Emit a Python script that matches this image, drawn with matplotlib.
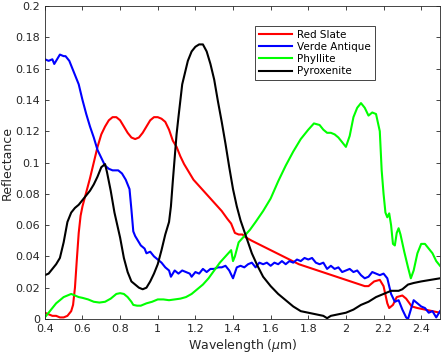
import matplotlib
matplotlib.use("Agg")
import matplotlib.pyplot as plt
import numpy as np

# Red Slate
red_x = [0.40, 0.42, 0.44, 0.46, 0.48, 0.50, 0.52, 0.54, 0.55, 0.56, 0.57, 0.58, 0.59, 0.60, 0.62, 0.64, 0.66, 0.68,
         0.70, 0.72, 0.74, 0.76, 0.78, 0.80, 0.82, 0.84, 0.86, 0.88, 0.90, 0.92, 0.94, 0.96, 0.98, 1.00, 1.02, 1.04,
         1.06, 1.08, 1.10, 1.12, 1.14, 1.16, 1.19, 1.22, 1.25, 1.28, 1.31, 1.34, 1.37, 1.39, 1.41, 1.43, 1.45, 1.47,
         1.50, 1.55, 1.60, 1.65, 1.70, 1.75, 1.80, 1.85, 1.90, 1.95, 2.00, 2.05, 2.10, 2.12, 2.15, 2.18, 2.20, 2.22,
         2.23, 2.25, 2.27, 2.30, 2.32, 2.35, 2.38, 2.42, 2.46, 2.50]
red_y = [0.004, 0.003, 0.002, 0.002, 0.001, 0.001, 0.002, 0.005, 0.009, 0.020, 0.038, 0.055, 0.066, 0.072, 0.081,
         0.090, 0.100, 0.110, 0.118, 0.123, 0.127, 0.129, 0.129, 0.127, 0.123, 0.119, 0.116, 0.115, 0.116, 0.119,
         0.123, 0.127, 0.129, 0.129, 0.128, 0.126, 0.121, 0.114, 0.110, 0.104, 0.099, 0.095, 0.089, 0.085, 0.081,
         0.077, 0.073, 0.069, 0.064, 0.061, 0.055, 0.054, 0.054, 0.052, 0.050, 0.047, 0.044, 0.041, 0.038, 0.035,
         0.033, 0.031, 0.029, 0.027, 0.025, 0.023, 0.021, 0.021, 0.024, 0.025, 0.021, 0.010, 0.007, 0.009, 0.014,
         0.015, 0.013, 0.008, 0.007, 0.006, 0.005, 0.004]

# Verde Antique
blue_x = [0.40, 0.42, 0.44, 0.45, 0.47, 0.48, 0.50, 0.51, 0.53, 0.55, 0.58, 0.60, 0.62, 0.64, 0.66, 0.68, 0.70, 0.72,
          0.74, 0.76, 0.79, 0.81, 0.83, 0.85, 0.86, 0.87, 0.88, 0.90, 0.91, 0.93, 0.94, 0.96, 0.98, 1.00, 1.02, 1.04,
          1.06, 1.07, 1.09, 1.11, 1.13, 1.15, 1.17, 1.18, 1.20, 1.22, 1.24, 1.26, 1.28, 1.30, 1.32, 1.34, 1.36, 1.38,
          1.40, 1.42, 1.44, 1.46, 1.48, 1.50, 1.52, 1.54, 1.56, 1.58, 1.60, 1.62, 1.64, 1.66, 1.68, 1.70, 1.72, 1.74,
          1.76, 1.78, 1.80, 1.82, 1.84, 1.86, 1.88, 1.90, 1.92, 1.94, 1.96, 1.98, 2.00, 2.02, 2.04, 2.06, 2.08, 2.10,
          2.12, 2.14, 2.16, 2.18, 2.20, 2.22, 2.24, 2.26, 2.28, 2.30, 2.32, 2.33, 2.35, 2.36, 2.38, 2.40, 2.42, 2.44,
          2.46, 2.48, 2.50]
blue_y = [0.166, 0.165, 0.166, 0.163, 0.167, 0.169, 0.168, 0.168, 0.165, 0.159, 0.150, 0.140, 0.131, 0.123, 0.116,
          0.108, 0.103, 0.098, 0.096, 0.095, 0.095, 0.093, 0.089, 0.083, 0.070, 0.056, 0.053, 0.049, 0.047, 0.045,
          0.042, 0.043, 0.040, 0.038, 0.036, 0.033, 0.031, 0.027, 0.031, 0.029, 0.031, 0.030, 0.029, 0.027, 0.030,
          0.029, 0.032, 0.030, 0.032, 0.032, 0.033, 0.033, 0.034, 0.031, 0.026, 0.033, 0.034, 0.033, 0.035, 0.036,
          0.033, 0.036, 0.035, 0.036, 0.034, 0.036, 0.035, 0.037, 0.035, 0.037, 0.036, 0.038, 0.037, 0.039, 0.038,
          0.039, 0.036, 0.035, 0.036, 0.032, 0.034, 0.032, 0.033, 0.030, 0.031, 0.032, 0.030, 0.031, 0.028, 0.026,
          0.027, 0.030, 0.029, 0.028, 0.029, 0.026, 0.016, 0.011, 0.012, 0.006, 0.001, 0.000, 0.008, 0.012, 0.010,
          0.008, 0.007, 0.004, 0.005, 0.001, 0.005]

# Phyllite
green_x = [0.40, 0.42, 0.44, 0.46, 0.48, 0.50, 0.52, 0.54, 0.56, 0.58, 0.60, 0.63, 0.66, 0.69, 0.72, 0.75, 0.78, 0.80,
           0.82, 0.84, 0.86, 0.87, 0.89, 0.91, 0.94, 0.97, 1.00, 1.03, 1.06, 1.09, 1.12, 1.15, 1.18, 1.21, 1.24, 1.27,
           1.30, 1.33, 1.36, 1.39, 1.40, 1.41, 1.43, 1.46, 1.49, 1.52, 1.56, 1.60, 1.64, 1.68, 1.72, 1.76, 1.80, 1.83,
           1.86, 1.88, 1.90, 1.92, 1.94, 1.96, 1.98, 2.00, 2.02, 2.04, 2.06, 2.08, 2.10, 2.12, 2.14, 2.16, 2.18, 2.19,
           2.20, 2.21, 2.22, 2.23, 2.24, 2.25, 2.26, 2.27, 2.28, 2.29, 2.31, 2.33, 2.345, 2.36, 2.38, 2.40, 2.42, 2.44,
           2.46, 2.48, 2.50]
green_y = [0.001, 0.004, 0.007, 0.010, 0.012, 0.014, 0.015, 0.016, 0.015, 0.014, 0.0135, 0.0125, 0.011, 0.0105, 0.011,
           0.013, 0.016, 0.0165, 0.016, 0.014, 0.011, 0.009, 0.0085, 0.0085, 0.010, 0.011, 0.0125, 0.0125, 0.012,
           0.0125, 0.013, 0.014, 0.016, 0.019, 0.022, 0.026, 0.031, 0.036, 0.040, 0.044, 0.037, 0.040, 0.049, 0.053,
           0.057, 0.062, 0.069, 0.077, 0.088, 0.098, 0.107, 0.115, 0.121, 0.125, 0.124, 0.121, 0.119, 0.119, 0.118,
           0.116, 0.113, 0.110, 0.117, 0.129, 0.135, 0.138, 0.135, 0.130, 0.132, 0.131, 0.120, 0.095, 0.080, 0.068,
           0.065, 0.0675, 0.060, 0.048, 0.047, 0.055, 0.058, 0.054, 0.043, 0.033, 0.026, 0.031, 0.042, 0.048, 0.048,
           0.045, 0.042, 0.037, 0.034]

# Pyroxenite
black_x = [0.40, 0.42, 0.44, 0.46, 0.48, 0.50, 0.52, 0.54, 0.56, 0.58, 0.60, 0.62, 0.64, 0.66, 0.68, 0.70, 0.72, 0.73,
           0.75, 0.77, 0.80, 0.82, 0.84, 0.86, 0.88, 0.90, 0.92, 0.94, 0.96, 0.98, 1.00, 1.02, 1.04, 1.06, 1.07, 1.08,
           1.10, 1.11, 1.13, 1.16, 1.18, 1.20, 1.22, 1.24, 1.26, 1.28, 1.30, 1.32, 1.34, 1.36, 1.38, 1.40, 1.42, 1.44,
           1.46, 1.48, 1.50, 1.53, 1.56, 1.60, 1.64, 1.68, 1.72, 1.76, 1.80, 1.84, 1.88, 1.90, 1.92, 1.96, 2.00, 2.04,
           2.08, 2.12, 2.16, 2.20, 2.24, 2.28, 2.30, 2.33, 2.36, 2.40, 2.45, 2.50]
black_y = [0.028, 0.029, 0.032, 0.035, 0.039, 0.049, 0.062, 0.068, 0.071, 0.073, 0.076, 0.079, 0.082, 0.086, 0.091,
           0.097, 0.099, 0.094, 0.082, 0.068, 0.052, 0.039, 0.030, 0.024, 0.022, 0.020, 0.019, 0.020, 0.024, 0.029,
           0.035, 0.044, 0.054, 0.062, 0.072, 0.088, 0.118, 0.129, 0.150, 0.165, 0.171, 0.174, 0.1755, 0.1755, 0.171,
           0.163, 0.153, 0.139, 0.126, 0.112, 0.097, 0.083, 0.072, 0.063, 0.056, 0.049, 0.042, 0.034, 0.027, 0.021,
           0.016, 0.012, 0.008, 0.005, 0.004, 0.003, 0.002, 0.0005, 0.002, 0.003, 0.004, 0.006, 0.009, 0.011, 0.014,
           0.016, 0.018, 0.018, 0.019, 0.022, 0.023, 0.024, 0.025, 0.026]

fig = plt.figure(figsize=(4.44, 3.58), dpi=100)
ax = fig.add_axes([0.101, 0.109, 0.89, 0.874])

ax.plot(red_x, red_y, color=(1, 0, 0), lw=1.5, label="Red Slate")
ax.plot(blue_x, blue_y, color=(0, 0, 1), lw=1.5, label="Verde Antique")
ax.plot(green_x, green_y, color=(0, 1, 0), lw=1.5, label="Phyllite")
ax.plot(black_x, black_y, color="black", lw=1.5, label="Pyroxenite")

ax.set_xlim(0.4, 2.5)
ax.set_ylim(0, 0.2)
xt = np.arange(0.4, 2.41, 0.2)
yt = np.arange(0, 0.201, 0.02)
ax.set_xticks(xt)
ax.set_yticks(yt)
ax.set_xticklabels(["%g" % round(v, 2) for v in xt])
ax.set_yticklabels(["%g" % round(v, 2) for v in yt])
ax.tick_params(direction="in", top=True, right=True, labelsize=8, colors="0.15", length=3, width=0.6)
for s in ax.spines.values():
    s.set_color("0.15")
    s.set_linewidth(0.6)

ax.set_xlabel("Wavelength ($\\mu$m)", fontsize=9, color="0.15", labelpad=2)
ax.set_ylabel("Reflectance", fontsize=9, color="0.15")
ax.yaxis.set_label_coords(-0.078, 0.5)

leg = ax.legend(loc="upper left", bbox_to_anchor=(0.519, 0.952), fontsize=7.5, fancybox=False,
                edgecolor="0.15", framealpha=1, handlelength=3.2, borderpad=0.35, labelspacing=0.2,
                handletextpad=0.5)
leg.get_frame().set_linewidth(0.6)

fig.savefig("out.png", dpi=100)
